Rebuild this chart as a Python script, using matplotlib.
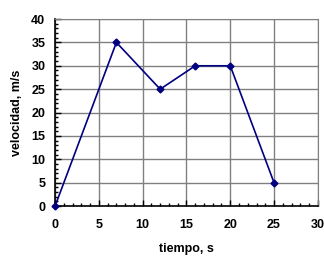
import matplotlib
matplotlib.use("Agg")
import matplotlib.pyplot as plt
from matplotlib.ticker import MultipleLocator

tiempo = [0, 7, 12, 16, 20, 25]
velocidad = [0, 35, 25, 30, 30, 5]

plt.rcParams['font.family'] = ['Liberation Sans', 'DejaVu Sans']

fig = plt.figure(figsize=(3.24, 2.57), dpi=100)
ax = fig.add_axes([0.17, 0.198, 0.811, 0.728])

ax.plot(tiempo, velocidad, "-", color="#000080", lw=1.2,
        marker="D", markersize=3.5, clip_on=False, zorder=3)

ax.set_xlim(0, 30)
ax.set_ylim(0, 40)
ax.xaxis.set_major_locator(MultipleLocator(5))
ax.yaxis.set_major_locator(MultipleLocator(5))
ax.xaxis.set_minor_locator(MultipleLocator(1))
ax.yaxis.set_minor_locator(MultipleLocator(1))
ax.tick_params(which="both", direction="in", width=1, color="black")
ax.tick_params(which="major", length=4, labelsize=9)
ax.tick_params(axis="x", which="major", pad=9)
ax.tick_params(axis="y", which="major", pad=7)
ax.tick_params(which="minor", length=2)
for lab in ax.get_xticklabels() + ax.get_yticklabels():
    lab.set_fontweight("bold")

ax.grid(True, which="major", color="#808080", lw=1)
for s in ["top", "right"]:
    ax.spines[s].set_color("#808080")
for s in ["left", "bottom"]:
    ax.spines[s].set_color("black")
    ax.spines[s].set_linewidth(1.2)

ax.set_xlabel("tiempo, s", fontsize=9, fontweight="bold", labelpad=9)
ax.set_ylabel("velocidad, m/s", fontsize=9, fontweight="bold", labelpad=6)

fig.savefig("out.png", dpi=100)
